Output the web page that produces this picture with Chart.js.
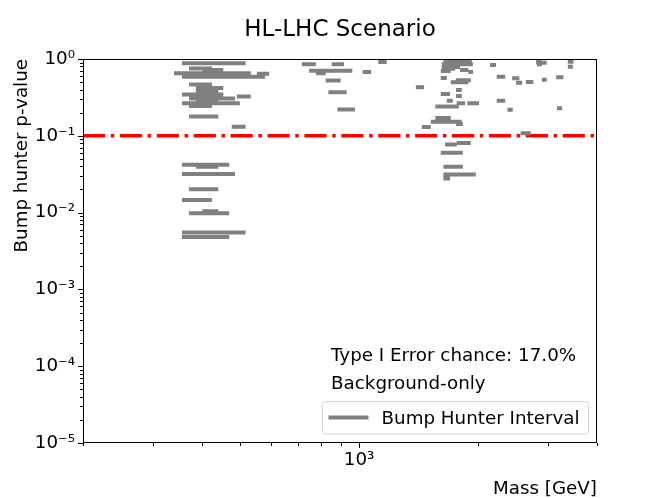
<!DOCTYPE html>
<html>
<head>
<meta charset="utf-8">
<script src="https://cdn.jsdelivr.net/npm/chart.js@4.4.0/dist/chart.umd.min.js"></script>
<style>
  html, body { margin: 0; padding: 0; background: #fff; }
</style>
</head>
<body>
<canvas id="mycan1" width="664" height="498"></canvas>
<script>
// bump hunter intervals: low edge, high edge (GeV) and p-value
var segLo = [356, 371, 401, 340, 551, 356, 371, 386, 386, 356, 490, 371, 386, 356, 371, 371, 476, 356, 386, 356, 371, 356, 401, 371, 356, 356,
             716, 852, 1118, 747, 777, 1021, 823, 1392, 836, 881,
             1634, 1618, 1618, 1618, 1801, 1890, 1609, 2144, 2229, 1609, 1759, 1706, 1759, 1609, 1759, 1667, 2229, 1766, 1879, 1559, 2373, 1559, 1518, 1759, 1441, 1766, 1650, 1609, 1634, 1634, 1634,
             2804, 2815, 2900, 3374, 3374, 2439, 2496, 2642, 2900, 3152, 3167, 2562];
var segHi = [516, 424, 453, 532, 592, 578, 424, 453, 440, 453, 532, 485, 440, 499, 424, 440, 516, 469, 440, 485, 440, 424, 440, 469, 516, 469,
             777, 916, 1174, 961, 823, 1072, 898, 1460, 930, 976,
             1928, 1940, 1801, 1750, 1890, 1943, 1706, 2220, 2342, 1667, 1917, 1890, 1819, 1699, 1819, 1726, 2342, 1854, 2012, 1787, 2448, 1706, 1819, 1830, 1518, 1917, 1766, 1830, 1830, 1974, 1699,
             2900, 2900, 2985, 3486, 3474, 2545, 2585, 2761, 2985, 3288, 3264, 2720];
var segP = [0.88, 0.75, 0.72, 0.652, 0.645, 0.589, 0.464, 0.42, 0.384, 0.344, 0.324, 0.305, 0.287, 0.266, 0.245, 0.178, 0.131, 0.042, 0.0396, 0.0318, 0.0201, 0.0146, 0.0104, 0.0098, 0.0055, 0.0048,
            0.853, 0.853, 0.914, 0.705, 0.652, 0.678, 0.523, 0.43, 0.37, 0.22,
            0.923, 0.853, 0.787, 0.748, 0.72, 0.678, 0.698, 0.836, 0.589, 0.567, 0.529, 0.498, 0.396, 0.351, 0.331, 0.287, 0.287, 0.266, 0.266, 0.24, 0.218, 0.17, 0.152, 0.142, 0.13, 0.0804, 0.0771, 0.0601, 0.0396, 0.0314, 0.0277,
            0.914, 0.853, 0.895, 0.923, 0.794, 0.561, 0.492, 0.503, 0.538, 0.578, 0.229, 0.108];

var threshold = 0.1;
var xRange = [200, 4000];
var yRange = [1e-5, 1];

var xMajor = [1000];
var xLabels = ['10\u00b3'];
var yMajor = [1e-5, 1e-4, 1e-3, 1e-2, 1e-1, 1];
var yLabels = ['10\u207b\u2075', '10\u207b\u2074', '10\u207b\u00b3', '10\u207b\u00b2', '10\u207b\u00b9', '10\u2070'];

var errorText = 'Type I Error chance: 17.0%';
var scenarioText = 'Background-only';

// minor tick positions for the log axes
var xTicks = [];
for (var e = 2; e <= 3; e++) {
	for (var m = 1; m <= 9; m++) {
		var v = m * Math.pow(10, e);
		if (v >= xRange[0] && v <= xRange[1]) xTicks.push(v);
	}
}
xTicks.push(4000);
var yTicks = [];
for (var e = -5; e < 0; e++) {
	for (var m = 1; m <= 9; m++) yTicks.push(m === 1 ? yMajor[e + 5] : m * Math.pow(10, e));
}
yTicks.push(1);

var pts = [];
for (var i = 0; i < segP.length; i++) {
	pts.push({x: segLo[i], y: segP[i]});
	pts.push({x: segHi[i], y: segP[i]});
	pts.push({x: segHi[i], y: null});
}

function isMajor(list, v) {
	for (var k = 0; k < list.length; k++) {
		if (Math.abs(list[k] - v) / list[k] < 1e-9) return k;
	}
	return -1;
}

var font = '"DejaVu Sans", sans-serif';
Chart.defaults.font.family = font;
Chart.defaults.font.size = 18.3;
Chart.defaults.color = '#000';

var extras = {
	id: 'extras',
	afterDatasetsDraw: function(chart) {
		var ctx = chart.ctx, a = chart.chartArea;
		var xs = chart.scales.x, ys = chart.scales.y;
		ctx.save();
		ctx.strokeStyle = '#000';
		ctx.lineWidth = 1;
		ctx.beginPath();
		xs.ticks.forEach(function(t) {
			var px = Math.round(xs.getPixelForValue(t.value)) + 0.5;
			var len = isMajor(xMajor, t.value) >= 0 ? 5 : 3;
			ctx.moveTo(px, a.bottom);
			ctx.lineTo(px, a.bottom + len);
		});
		ys.ticks.forEach(function(t) {
			var py = Math.round(ys.getPixelForValue(t.value)) + 0.5;
			var len = isMajor(yMajor, t.value) >= 0 ? 5 : 3;
			ctx.moveTo(a.left, py);
			ctx.lineTo(a.left - len, py);
		});
		ctx.stroke();
		ctx.strokeRect(a.left + 0.5, a.top + 0.5, a.right - a.left - 1, a.bottom - a.top - 1);

		// text notes
		ctx.fillStyle = '#000';
		ctx.font = '18.3px ' + font;
		ctx.textBaseline = 'alphabetic';
		ctx.textAlign = 'left';
		ctx.fillText(errorText, a.left + 248, a.top + 302);
		ctx.fillText(scenarioText, a.left + 248, a.top + 330);

		// legend
		var ds = chart.data.datasets[0];
		var bx = a.left + 239.5, by = a.top + 342.5, bw = 266, bh = 32.5;
		ctx.beginPath();
		ctx.roundRect(bx, by, bw, bh, 3);
		ctx.fillStyle = 'rgba(255,255,255,0.8)';
		ctx.fill();
		ctx.strokeStyle = '#d5d5d5';
		ctx.lineWidth = 1;
		ctx.stroke();
		ctx.beginPath();
		ctx.strokeStyle = ds.borderColor;
		ctx.lineWidth = ds.borderWidth;
		ctx.moveTo(bx + 6, by + 16);
		ctx.lineTo(bx + 46, by + 16);
		ctx.stroke();
		ctx.fillStyle = '#000';
		ctx.fillText(ds.label, bx + 59, by + 22);
		ctx.restore();
	}
};

var ctx = document.getElementById('mycan1');
var chart = new Chart(ctx, {
	type: 'line',
	data: {
		datasets: [
			{
				label: 'Bump Hunter Interval',
				data: pts,
				borderColor: '#808080',
				borderWidth: 4,
				pointRadius: 0,
				spanGaps: false,
				fill: false
			},
			{
				label: 'threshold',
				data: [{x: xRange[0], y: threshold}, {x: xRange[1], y: threshold}],
				borderColor: '#ff0000',
				borderWidth: 3.5,
				borderDash: [22.2, 5.6, 3.5, 5.6],
				pointRadius: 0,
				fill: false
			}
		]
	},
	options: {
		responsive: false,
		animation: false,
		devicePixelRatio: 1,
		layout: { padding: { left: 0, right: 67, top: 0, bottom: 0 } },
		plugins: {
			legend: { display: false },
			tooltip: { enabled: false },
			title: {
				display: true,
				text: 'HL-LHC Scenario',
				fullSize: false,
				color: '#000',
				font: { size: 23, weight: 'normal', lineHeight: 1.2 },
				padding: { top: 16, bottom: 15.4 }
			}
		},
		scales: {
			x: {
				type: 'logarithmic',
				min: xRange[0],
				max: xRange[1],
				grid: { display: false, drawTicks: false },
				border: { display: false },
				afterBuildTicks: function(s) { s.ticks = xTicks.map(function(v) { return {value: v}; }); },
				afterFit: function(s) { s.height = 55; },
				ticks: {
					autoSkip: false,
					maxRotation: 0,
					padding: 6,
					callback: function(v) { var k = isMajor(xMajor, v); return k >= 0 ? xLabels[k] : ''; }
				},
				title: {
					display: true,
					text: 'Mass [GeV]',
					align: 'end',
					font: { size: 18.3, lineHeight: 1 },
					padding: { top: 0, bottom: 0 }
				}
			},
			y: {
				type: 'logarithmic',
				min: yRange[0],
				max: yRange[1],
				grid: { display: false, drawTicks: false },
				border: { display: false },
				afterBuildTicks: function(s) { s.ticks = yTicks.map(function(v) { return {value: v}; }); },
				afterFit: function(s) { s.width = 83; },
				ticks: {
					autoSkip: false,
					padding: 8,
					callback: function(v) { var k = isMajor(yMajor, v); return k >= 0 ? yLabels[k] : ''; }
				},
				title: {
					display: true,
					text: 'Bump hunter p-value',
					align: 'end',
					font: { size: 18.3, lineHeight: 1 },
					padding: { top: 13, bottom: 0 }
				}
			}
		}
	},
	plugins: [extras]
});
</script>
</body>
</html>
